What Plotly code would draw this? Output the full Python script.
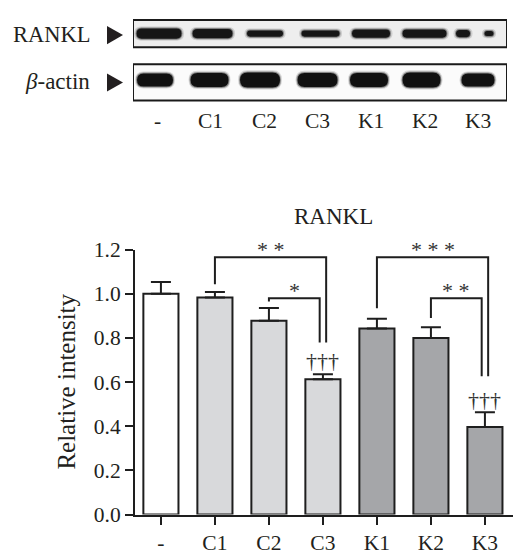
import plotly.graph_objects as go

W, H = 528, 557

# values
groups = ["-", "C1", "C2", "C3", "K1", "K2", "K3"]
rankl_mean = [1.0, 0.983, 0.878, 0.613, 0.843, 0.80, 0.397]
rankl_err = [0.053, 0.025, 0.058, 0.023, 0.044, 0.049, 0.066]
bar_colors = ["#ffffff", "#d8d9db", "#d8d9db", "#d8d9db", "#a5a6a9", "#a5a6a9", "#a5a6a9"]
daggers = ["", "", "", "†††", "", "", "†††"]

# significance brackets: left x, right x, top, left leg end, right leg end, label
brackets = [
    (1, 3.06, 1.166, 1.043, 0.78, "* *"),
    (2, 2.94, 0.98, 0.965, 0.78, "*"),
    (4, 6.06, 1.166, 0.935, 0.627, "* * *"),
    (5, 5.94, 0.98, 0.89, 0.627, "* *"),
]

# blot bands per lane: (offset px, width px, height px)
rankl_bands = [[(2, 45, 10)], [(2, 40, 9)], [(1, 36, 6)], [(3, 38, 6)], [(0, 38, 8)],
               [(0, 44, 8)], [(-15, 14, 7), (11, 9, 5)]]
actin_bands = [(-2, 36, 13), (-1, 38, 14), (-4, 40, 15), (0, 40, 14), (-2, 38, 14),
               (-3, 38, 15), (0, 33, 13)]

FONT = "Liberation Serif"
TXT = "#231f20"

# the page is shifted/squeezed a little when photographed, so positions are
# given in picture pixels and converted here
OX, OY, SY = 8, 22, 0.95


def fx(X):
    return (X - OX) / W


def fy(Y):
    return 1 - (Y - OY) / SY / H


YDOM = [fy(514), fy(251)]
YMAX = 1.2
LANE_PX = 53.5


def vy(v):
    return YDOM[0] + v / YMAX * (YDOM[1] - YDOM[0])


def note(x, y, text, size=22, **kw):
    fig.add_annotation(x=fx(x), y=fy(y), xref="paper", yref="paper", text=text,
                       showarrow=False, xanchor="center", yanchor="middle",
                       font=dict(family=FONT, size=size, color=TXT), **kw)


def pill(c, yc, w, h, color):
    # rounded band, c in lane units, yc/w/h in picture pixels
    hw = w / 2 / LANE_PX
    rw = min(h / 2 / LANE_PX, hw)
    x0, x1 = c - hw, c + hw
    t, b = yc - h / 2, yc + h / 2
    path = (f"M {x0 + rw} {t} L {x1 - rw} {t} Q {x1} {t} {x1} {yc} "
            f"Q {x1} {b} {x1 - rw} {b} L {x0 + rw} {b} Q {x0} {b} {x0} {yc} "
            f"Q {x0} {t} {x0 + rw} {t} Z")
    fig.add_shape(type="path", xref="x2", yref="y2", path=path,
                  fillcolor=color, line=dict(width=0))


fig = go.Figure()

# ---- bar chart ----
fig.add_trace(go.Bar(
    x=list(range(len(groups))), y=rankl_mean, width=0.65,
    marker=dict(color=bar_colors, line=dict(color="#1e1e1e", width=2)),
    error_y=dict(type="data", symmetric=False, array=rankl_err,
                 arrayminus=[0] * len(groups), color="#1e1e1e", thickness=2, width=10),
    showlegend=False, hoverinfo="skip",
))

for x0, x1, top, l_end, r_end, lab in brackets:
    fig.add_trace(go.Scatter(
        x=[x0, x0, x1, x1], y=[l_end, top, top, r_end], mode="lines",
        line=dict(color="#1e1e1e", width=2), showlegend=False, hoverinfo="skip",
        cliponaxis=False,
    ))
    fig.add_annotation(x=(x0 + x1) / 2, xref="x", y=vy(top + 0.035), yref="paper",
                       text=lab, showarrow=False, xanchor="center", yanchor="middle",
                       font=dict(family=FONT, size=22, color="#333"))

for i, d in enumerate(daggers):
    if d:
        fig.add_annotation(x=i, xref="x", y=vy(rankl_mean[i] + rankl_err[i] + 0.06),
                           yref="paper", text=d, showarrow=False,
                           xanchor="center", yanchor="middle",
                           font=dict(family=FONT, size=22, color="#333"))

note(333, 218, "RANKL", size=23)
note(67, 382, "Relative intensity", size=25, textangle=-90)

# ---- western blot panel (lane units on x2, picture-pixel rows on y2) ----
for box in [(23, 50, "#eeeeee"), (67, 103, "#fbfbfb")]:
    fig.add_shape(type="rect", xref="x2", yref="y2", x0=-0.449, x1=6.542,
                  y0=box[0], y1=box[1], fillcolor=box[2],
                  line=dict(color="#1a1a1a", width=2), layer="below")

for i, pieces in enumerate(rankl_bands):
    for dx, w, h in pieces:
        c = i + dx / LANE_PX
        pill(c, 36.5, w + 5, h + 4, "rgba(60,60,60,0.18)")
        pill(c, 36.5, w + 2, h + 2, "rgba(40,40,40,0.45)")
        pill(c, 36.5, w, h, "#161616")

for i, (dx, w, h) in enumerate(actin_bands):
    c = i + dx / LANE_PX
    pill(c, 82.5, w + 4, h + 4, "rgba(60,60,60,0.18)")
    pill(c, 82.5, w + 2, h + 2, "rgba(40,40,40,0.45)")
    pill(c, 82.5, w, h, "#111111")

for i, g in enumerate(groups):
    fig.add_annotation(x=i, y=123, xref="x2", yref="y2", text=g, showarrow=False,
                       xanchor="center", yanchor="middle",
                       font=dict(family=FONT, size=21.5, color=TXT))

note(52, 37, "RANKL", size=22.5)
note(57, 84, "<i>β</i>-actin", size=23)
for yc in [38, 85]:
    fig.add_shape(type="path", xref="paper", yref="paper",
                  path=f"M {fx(107)} {fy(yc - 9)} L {fx(123)} {fy(yc)} L {fx(107)} {fy(yc + 9)} Z",
                  fillcolor="#231f20", line=dict(width=0))

fig.update_layout(
    width=W, height=H, margin=dict(l=0, r=0, t=0, b=0),
    paper_bgcolor="white", plot_bgcolor="white",
    font=dict(family=FONT, size=21.5, color=TXT),
    xaxis=dict(domain=[fx(135), fx(513)], range=[-0.48, 6.52],
               tickvals=list(range(len(groups))), ticktext=groups,
               showline=True, linewidth=2, linecolor="#1e1e1e",
               ticks="outside", ticklen=8, tickwidth=2, tickcolor="#1e1e1e",
               showgrid=False, zeroline=False, fixedrange=True),
    yaxis=dict(domain=YDOM, range=[0, YMAX],
               tickvals=[0, 0.2, 0.4, 0.6, 0.8, 1.0, 1.2], tickformat=".1f",
               showline=True, linewidth=2, linecolor="#1e1e1e",
               ticks="outside", ticklen=8, tickwidth=2, tickcolor="#1e1e1e",
               showgrid=False, zeroline=False, fixedrange=True),
    xaxis2=dict(domain=[fx(133), fx(507)], range=[-0.449, 6.542], anchor="y2",
                visible=False, fixedrange=True),
    yaxis2=dict(domain=[fy(135), fy(22)], range=[135, 22], anchor="x2",
                visible=False, fixedrange=True),
)

fig.write_html("out.html")
